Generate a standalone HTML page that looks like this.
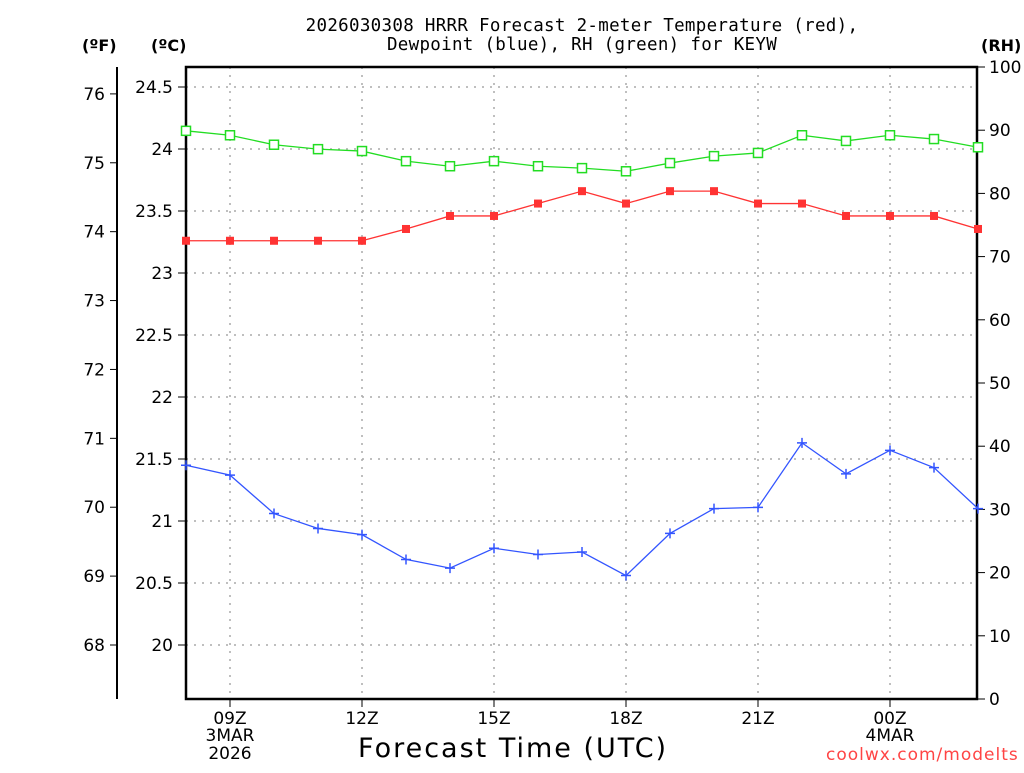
<!DOCTYPE html>
<html><head><meta charset="utf-8"><style>
body{margin:0;background:#fff;}
svg text{font-family:"DejaVu Sans","Liberation Sans",sans-serif;fill:#000;}
</style></head><body>
<svg id="c" width="1024" height="768" viewBox="0 0 1024 768"></svg>
<script>
const hours=[8,9,10,11,12,13,14,15,16,17,18,19,20,21,22,23,24,25,26];
const tempC=[23.26,23.26,23.26,23.26,23.26,23.355,23.46,23.46,23.56,23.66,23.56,23.66,23.66,23.56,23.56,23.46,23.46,23.46,23.355];
const dewC=[21.45,21.37,21.06,20.94,20.89,20.69,20.62,20.78,20.73,20.75,20.56,20.90,21.10,21.11,21.63,21.38,21.57,21.43,21.10];
const rh=[89.9,89.2,87.7,87.0,86.7,85.1,84.3,85.1,84.3,84.0,83.5,84.8,85.9,86.4,89.2,88.3,89.2,88.6,87.3];
const cTicks=[20,20.5,21,21.5,22,22.5,23,23.5,24,24.5];
const cLabels=["20","20.5","21","21.5","22","22.5","23","23.5","24","24.5"];
const fTicks=[68,69,70,71,72,73,74,75,76];
const rhTicks=[0,10,20,30,40,50,60,70,80,90,100];
const xTicks=[9,12,15,18,21,24];
const xLabels=["09Z","12Z","15Z","18Z","21Z","00Z"];

const L=186,R=977,T=67,B=699;
const NS="http://www.w3.org/2000/svg";
const svg=document.getElementById('c');
const xS=h=>L+(h-8)*44;
const yC=c=>645-(c-20)*124;
const yF=f=>yC((f-32)/1.8);
const yR=r=>B-r*6.32;
function el(tag,attrs,txt){const e=document.createElementNS(NS,tag);for(const k in attrs)e.setAttribute(k,attrs[k]);if(txt!==undefined)e.textContent=txt;svg.appendChild(e);return e;}

cTicks.forEach(c=>{const g=el('line',{x1:L,x2:R,y1:yC(c),y2:yC(c),stroke:'#aaa','stroke-dasharray':'2,6','stroke-width':1.5});

});
xTicks.forEach(h=>{const g=el('line',{x1:xS(h),x2:xS(h),y1:T,y2:B,stroke:'#aaa','stroke-dasharray':'2,6','stroke-width':1.5});

});

const fr=el('rect',{x:L,y:T,width:R-L,height:B-T,fill:'none',stroke:'#000','stroke-width':2.5});



cTicks.forEach((c,i)=>{el('line',{x1:L-8,x2:L,y1:yC(c),y2:yC(c),stroke:'#000','stroke-width':1});
const t=el('text',{x:173,y:yC(c)+6,'text-anchor':'end','font-size':17},cLabels[i]);

});
el('line',{x1:117,x2:117,y1:T,y2:B,stroke:'#000','stroke-width':2});
fTicks.forEach(f=>{el('line',{x1:110,x2:117,y1:yF(f),y2:yF(f),stroke:'#000'});
const t=el('text',{x:105,y:yF(f)+6,'text-anchor':'end','font-size':17},String(f));

});
rhTicks.forEach(r=>{el('line',{x1:R,x2:R+8,y1:yR(r),y2:yR(r),stroke:'#000'});
const t=el('text',{x:989,y:yR(r)+6,'font-size':17},String(r));

});
xTicks.forEach((h,i)=>{el('line',{x1:xS(h),x2:xS(h),y1:B,y2:B+8,stroke:'#000'});
const t=el('text',{x:xS(h),y:724,'text-anchor':'middle','font-size':17},xLabels[i]);

});

function series(vals,yf,color,marker,name){
 const pts=vals.map((v,i)=>xS(hours[i])+','+yf(v)).join(' ');
 const p=el('polyline',{points:pts,fill:'none',stroke:color,'stroke-width':1.3});
 
 
 vals.forEach((v,i)=>{const x=xS(hours[i]),y=yf(v);let m;
  if(marker==='fsq')m=el('rect',{x:x-4,y:y-4,width:8,height:8,fill:color});
  else if(marker==='osq')m=el('rect',{x:x-4.5,y:y-4.5,width:9,height:9,fill:'#fff',stroke:color,'stroke-width':1.5});
  else{m=el('path',{d:`M${x-5} ${y}H${x+5}M${x} ${y-5}V${y+5}`,stroke:color,'stroke-width':1.5});}
  
  });
}
series(rh,yR,'#22dd22','osq','rh');
series(tempC,yC,'#ff3333','fsq','temperature');
series(dewC,yC,'#3355ff','plus','dewpoint');
</script>
<div style="position:absolute;left:0;top:0;width:1024px;height:768px;font-family:'DejaVu Sans','Liberation Sans',sans-serif;pointer-events:none">
<div style="position:absolute;left:242px;top:17px;width:680px;text-align:center;font-family:'DejaVu Sans Mono','Liberation Mono',monospace;font-size:17.5px;line-height:19px;letter-spacing:0.3px">2026030308 HRRR Forecast 2-meter Temperature (red),<br>Dewpoint (blue), RH (green) for KEYW</div>
<div style="position:absolute;left:82px;top:36px;font-size:16px;font-weight:bold">(ºF)</div>
<div style="position:absolute;left:151px;top:36px;font-size:16px;font-weight:bold">(ºC)</div>
<div style="position:absolute;left:981px;top:36px;font-size:16px;font-weight:bold">(RH)</div>
<div style="position:absolute;left:190px;top:727px;width:80px;text-align:center;font-size:17px;line-height:18px">3MAR<br>2026</div>
<div style="position:absolute;left:850px;top:727px;width:80px;text-align:center;font-size:17px;line-height:18px">4MAR</div>
<div style="position:absolute;left:358px;top:733px;font-size:27px;letter-spacing:2px">Forecast Time (UTC)</div>
<div style="position:absolute;left:826px;top:745px;font-size:17px;color:#ff4444;letter-spacing:1px">coolwx.com/modelts</div>
</div>
</body></html>
